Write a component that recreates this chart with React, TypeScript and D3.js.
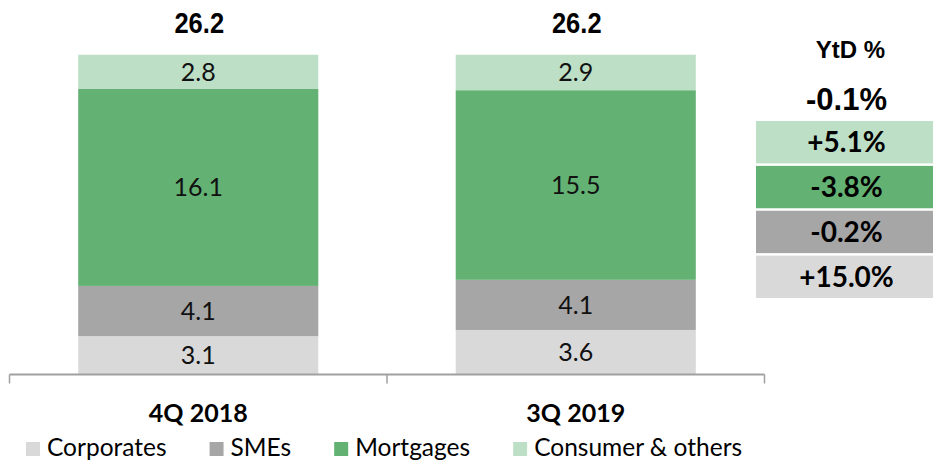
import React, { useEffect, useRef } from "react";
import * as d3 from "d3";

const categories = ["4Q 2018", "3Q 2019"];
const seriesNames = ["Corporates", "SMEs", "Mortgages", "Consumer & others"];
const corporates = [3.1, 3.6];
const smes = [4.1, 4.1];
const mortgages = [16.1, 15.5];
const consumer = [2.8, 2.9];
const totals = [26.2, 26.2];
const ytdTitle = "YtD %";
const ytdTotal = "-0.1%";
const ytdChanges = ["+15.0%", "-0.2%", "-3.8%", "+5.1%"]; // same order as seriesNames
const colors = ["#d9d9d9", "#a6a6a6", "#63b273", "#bddfc5"];

const W = 933;
const H = 460;
const CAL = "Lato, 'Open Sans', sans-serif";
const ARIAL = "'Liberation Sans', Arial, sans-serif";

export default function App() {
  const ref = useRef<SVGSVGElement>(null);

  useEffect(() => {
    const svg = d3.select(ref.current);
    svg.selectAll("*").remove();

    const rows = categories.map((c, i) => ({
      cat: c,
      "Corporates": corporates[i],
      "SMEs": smes[i],
      "Mortgages": mortgages[i],
      "Consumer & others": consumer[i],
    }));
    const stack = d3.stack<any>().keys(seriesNames);
    const layers = stack(rows);

    const x = d3.scaleBand().domain(categories).range([9.5, 764.5]).paddingInner(0.364).paddingOuter(0.182);
    const xAxisBand = d3.scaleBand().domain(categories).range([9.5, 764.5]);
    const y = d3.scaleLinear().domain([0, 26.2]).range([374, 53.5]);
    const color = d3.scaleOrdinal<string, string>().domain(seriesNames).range(colors);

    // bars
    const g = svg.append("g");
    layers.forEach((layer) => {
      const lg = g.append("g");
      layer.forEach((d, i) => {
        const x0 = x(categories[i])!;
        lg.append("rect")
          .attr("x", x0)
          .attr("y", y(d[1]))
          .attr("width", x.bandwidth())
          .attr("height", y(d[0]) - y(d[1]))
          .attr("fill", color(layer.key));
        lg.append("text")
          .attr("x", x0 + x.bandwidth() / 2)
          .attr("y", (y(d[0]) + y(d[1])) / 2 + 9)
          .attr("text-anchor", "middle")
          .attr("font-family", CAL)
          .attr("font-size", 25)
          .attr("fill", "#111")
          .text((d[1] - d[0]).toFixed(1));
      });
    });

    // totals
    totals.forEach((t, i) => {
      const cx = x(categories[i])! + x.bandwidth() / 2;
      svg.append("text")
        .attr("transform", `translate(${cx + 1},${33}) scale(0.85,1)`)
        .attr("text-anchor", "middle")
        .attr("font-family", ARIAL)
        .attr("font-weight", "bold")
        .attr("font-size", 30)
        .attr("fill", "#000")
        .text(t.toFixed(1));
    });

    // axis
    const axisY = 374.5;
    svg.append("line")
      .attr("x1", xAxisBand.range()[0]).attr("x2", xAxisBand.range()[1])
      .attr("y1", axisY).attr("y2", axisY)
      .attr("stroke", "#a0a0a0").attr("stroke-width", 2);
    const tickXs = [...categories.map((c) => xAxisBand(c)!), xAxisBand.range()[1]];
    tickXs.forEach((tx) => {
      svg.append("line")
        .attr("x1", tx).attr("x2", tx)
        .attr("y1", axisY).attr("y2", axisY + 9)
        .attr("stroke", "#a0a0a0").attr("stroke-width", 1.5);
    });
    categories.forEach((c) => {
      svg.append("text")
        .attr("x", x(c)! + x.bandwidth() / 2)
        .attr("y", 422)
        .attr("text-anchor", "middle")
        .attr("font-family", CAL)
        .attr("font-weight", "bold")
        .attr("font-size", 25)
        .attr("fill", "#000")
        .text(c);
    });

    // legend
    let lx = 26;
    seriesNames.forEach((s) => {
      svg.append("rect")
        .attr("x", lx).attr("y", 442)
        .attr("width", 14).attr("height", 14)
        .attr("fill", color(s));
      const t = svg.append("text")
        .attr("x", lx + 21)
        .attr("y", 456)
        .attr("font-family", CAL)
        .attr("font-size", 24.5)
        .attr("fill", "#000")
        .text(s);
      const w = (t.node() as SVGTextElement).getComputedTextLength();
      lx = lx + 21 + w + 43;
    });

    // YtD panel
    const px0 = 756;
    const px1 = 933;
    const pcx = (px0 + px1) / 2;
    svg.append("text")
      .attr("x", pcx + 6).attr("y", 58)
      .attr("text-anchor", "middle")
      .attr("font-family", ARIAL)
      .attr("font-weight", "bold")
      .attr("font-size", 24)
      .attr("fill", "#000")
      .text(ytdTitle);
    svg.append("text")
      .attr("x", pcx + 2).attr("y", 110)
      .attr("text-anchor", "middle")
      .attr("font-family", ARIAL)
      .attr("font-weight", "bold")
      .attr("font-size", 31)
      .attr("fill", "#000")
      .text(ytdTotal);

    const order = [...seriesNames].reverse();
    const by = d3.scaleBand().domain(order).range([121, 298]).paddingInner(0.055);
    order.forEach((s) => {
      const i = seriesNames.indexOf(s);
      svg.append("rect")
        .attr("x", px0).attr("y", by(s)!)
        .attr("width", px1 - px0).attr("height", by.bandwidth())
        .attr("fill", color(s));
      svg.append("text")
        .attr("x", pcx + 2)
        .attr("y", by(s)! + by.bandwidth() / 2 + 10)
        .attr("text-anchor", "middle")
        .attr("font-family", CAL)
        .attr("font-weight", "bold")
        .attr("font-size", 28)
        .attr("fill", "#000")
        .text(ytdChanges[i]);
    });
  }, []);

  return (
    <svg
      ref={ref}
      width={W}
      height={H}
      style={{ position: "absolute", left: 0, top: 0, background: "#fff" }}
    />
  );
}
